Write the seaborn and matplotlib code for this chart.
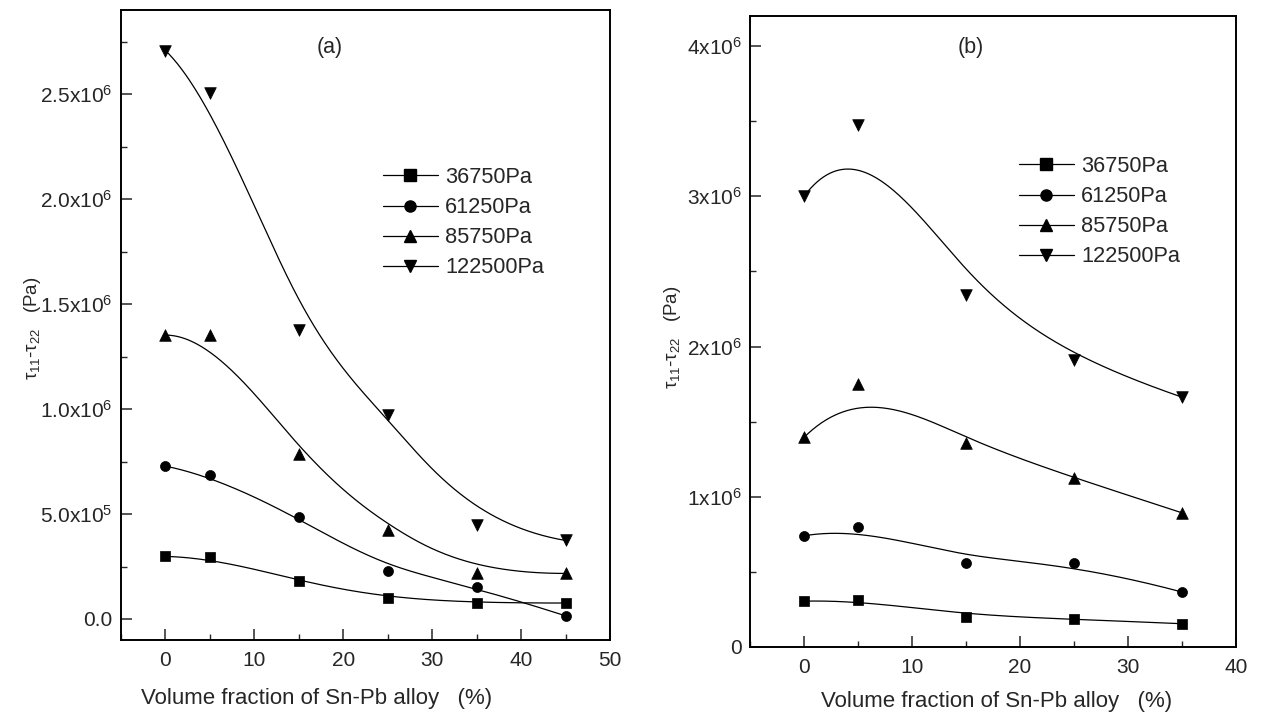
import numpy as np
import pandas as pd
import matplotlib
matplotlib.use("Agg")
import matplotlib.pyplot as plt
from matplotlib.lines import Line2D
from matplotlib.ticker import MultipleLocator
import seaborn as sns

# ---------------- data ----------------
series_labels = ["36750Pa", "61250Pa", "85750Pa", "122500Pa"]
markers = ["s", "o", "^", "v"]

x_a = [0, 5, 15, 25, 35, 45]
a_36750 = [0.298e6, 0.293e6, 0.180e6, 0.098e6, 0.076e6, 0.076e6]
a_61250 = [0.728e6, 0.685e6, 0.485e6, 0.228e6, 0.152e6, 0.015e6]
a_85750 = [1.352e6, 1.352e6, 0.787e6, 0.424e6, 0.217e6, 0.217e6]
a_122500 = [2.707e6, 2.504e6, 1.376e6, 0.972e6, 0.446e6, 0.374e6]

x_b = [0, 5, 15, 25, 35]
b_36750 = [0.305e6, 0.314e6, 0.201e6, 0.186e6, 0.155e6]
b_61250 = [0.740e6, 0.801e6, 0.557e6, 0.557e6, 0.366e6]
b_85750 = [1.395e6, 1.752e6, 1.359e6, 1.127e6, 0.893e6]
b_122500 = [3.000e6, 3.476e6, 2.340e6, 1.913e6, 1.663e6]

ytick_a = ["0.0", "5.0x10$^{5}$", "1.0x10$^{6}$", "1.5x10$^{6}$", "2.0x10$^{6}$", "2.5x10$^{6}$"]
ytick_b = ["0", "1x10$^{6}$", "2x10$^{6}$", "3x10$^{6}$", "4x10$^{6}$"]

xlabel = "Volume fraction of Sn-Pb alloy   (%)"
ylabel = "τ$_{11}$-τ$_{22}$   (Pa)"


def bspline(xs, ys, k=3, num=300):
    """Clamped uniform B-spline using data points as control points."""
    P = np.column_stack([xs, ys]).astype(float)
    n = len(P) - 1
    inner = np.linspace(0, 1, n - k + 2)[1:-1]
    knots = np.concatenate([np.zeros(k + 1), inner, np.ones(k + 1)])
    t = np.linspace(0, 1, num)
    t[-1] = 1 - 1e-12

    def N(i, p, t):
        if p == 0:
            return ((knots[i] <= t) & (t < knots[i + 1])).astype(float)
        d1 = knots[i + p] - knots[i]
        d2 = knots[i + p + 1] - knots[i + 1]
        a = (t - knots[i]) / d1 * N(i, p - 1, t) if d1 > 0 else 0 * t
        b = (knots[i + p + 1] - t) / d2 * N(i + 1, p - 1, t) if d2 > 0 else 0 * t
        return a + b

    B = np.column_stack([N(i, k, t) for i in range(n + 1)])
    C = B @ P
    return C[:, 0], C[:, 1]


sns.set_style("ticks")
plt.rcParams["font.family"] = ["Liberation Sans", "DejaVu Sans"]
plt.rcParams["mathtext.fontset"] = "custom"
plt.rcParams["mathtext.rm"] = "Liberation Sans"
plt.rcParams["mathtext.it"] = "Liberation Sans:italic"
plt.rcParams["mathtext.default"] = "rm"

fig = plt.figure(figsize=(12.61, 7.17), dpi=100)
ax_a = fig.add_axes([121 / 1261, 1 - 640 / 717, 489 / 1261, 630 / 717])
ax_b = fig.add_axes([750 / 1261, 1 - 647 / 717, 486 / 1261, 631 / 717])


def draw(ax, xs, data_list):
    for vals, m in zip(data_list, markers):
        cx, cy = bspline(xs, vals)
        sns.lineplot(x=cx, y=cy, ax=ax, sort=False, estimator=None,
                     color="black", linewidth=0.9)
        sns.scatterplot(x=xs, y=vals, ax=ax, marker=m, color="black",
                        s=70 if m in ("^", "v") else 52, edgecolor="black",
                        linewidth=0.5, zorder=3)


draw(ax_a, x_a, [a_36750, a_61250, a_85750, a_122500])
draw(ax_b, x_b, [b_36750, b_61250, b_85750, b_122500])

ax_a.set_xlim(-5, 50)
ax_a.set_ylim(-0.1e6, 2.9e6)
ax_a.set_yticks(np.arange(0, 2.51e6, 0.5e6))
ax_a.set_yticklabels(ytick_a)
ax_a.yaxis.set_minor_locator(MultipleLocator(0.25e6))

ax_b.set_xlim(-5, 40)
ax_b.set_ylim(0, 4.2e6)
ax_b.set_yticks(np.arange(0, 4.01e6, 1e6))
ax_b.set_yticklabels(ytick_b)
ax_b.yaxis.set_minor_locator(MultipleLocator(0.5e6))

for ax, lab, lx, ly, xl_x, xl_y, yl_x, yl_y in [
    (ax_a, "(a)", 330, 47, 0.399, -0.076, -0.160, 0.495),
    (ax_b, "(b)", 971, 47, 0.508, -0.070, -0.138, 0.491),
]:
    ax.xaxis.set_major_locator(MultipleLocator(10))
    ax.xaxis.set_minor_locator(MultipleLocator(5))
    ax.tick_params(which="major", direction="in", length=8, width=1.1,
                   labelsize=15, pad=6, top=False, right=False)
    ax.tick_params(axis="x", which="major", pad=8)
    ax.tick_params(which="minor", direction="in", length=4, width=1.0,
                   top=False, right=False)
    for s in ax.spines.values():
        s.set_visible(True)
        s.set_linewidth(1.4)
        s.set_color("black")
    ax.set_xlabel(xlabel, fontsize=16)
    ax.set_ylabel(ylabel, fontsize=13.5)
    ax.xaxis.set_label_coords(xl_x, xl_y)
    ax.yaxis.set_label_coords(yl_x, yl_y)
    fig.text(lx / 1261, 1 - ly / 717, lab, fontsize=15.5, ha="center", va="center")
    ax.grid(False)

handles = [Line2D([], [], color="black", linewidth=0.9, marker=m, markersize=8,
                  markerfacecolor="black", markeredgecolor="black")
           for m in markers]

for ax, (px, py) in [(ax_a, (383, 167)), (ax_b, (1019, 156))]:
    ax.legend(handles, series_labels, loc="upper left",
              bbox_to_anchor=(px / 1261, 1 - py / 717),
              bbox_transform=fig.transFigure, frameon=False,
              fontsize=15.7, handlelength=2.5, handletextpad=0.35,
              labelspacing=0.42, borderpad=0, borderaxespad=0)

fig.savefig("out.png", dpi=100, facecolor="white")
